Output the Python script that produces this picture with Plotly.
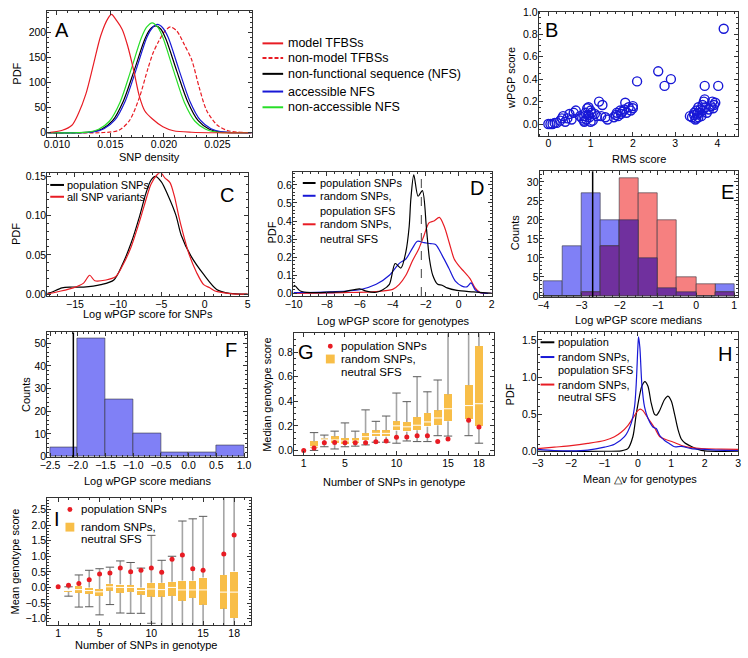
import plotly.graph_objects as go
import numpy as np

W, H = 748, 658
FONT = "Liberation Sans, Arial, Helvetica, sans-serif"
RED = "rgb(232,28,36)"
BLUE = "rgb(24,24,214)"
GREEN = "rgb(40,222,40)"
BLACK = "black"
ORANGE = "rgb(248,190,72)"
FR = "#333333"

# ---------------- Panel A : SNP density PDFs ----------------
a_model_x = [0.0091, 0.0093, 0.0105, 0.0114, 0.0120, 0.0127, 0.0134, 0.0141, 0.0148, 0.0151, 0.0156, 0.0161,
             0.0166, 0.0172, 0.0177, 0.0182, 0.0189, 0.0199, 0.0209, 0.0226, 0.0250, 0.0282]
a_model_y = [0, 0.5, 5, 15, 38, 77, 135, 194, 229, 236, 223, 206, 174, 122, 73, 44, 28, 12, 4, 1, 0, 0]
a_nonmodel_x = [0.0091, 0.0144, 0.0158, 0.0168, 0.0177, 0.0185, 0.0190, 0.0195, 0.0201, 0.0206, 0.0212,
                0.0219, 0.0226, 0.0233, 0.0240, 0.0250, 0.0260, 0.0282]
a_nonmodel_y = [0, 0.5, 5, 25, 70, 128, 160, 182, 203, 211, 203, 176, 145, 90, 44, 15, 4, 0]
a_nfs_x = [0.0091, 0.0132, 0.0142, 0.0152, 0.0162, 0.0172, 0.0182, 0.0187, 0.0192, 0.0197, 0.0202, 0.0212,
           0.0222, 0.0232, 0.0242, 0.0252, 0.0282]
a_nfs_y = [0, 1.6, 7.5, 24, 63, 123, 186, 206, 213, 207, 186, 123, 63, 24, 7.5, 1.6, 0]
a_acc_x = [0.0091, 0.0134, 0.0144, 0.0154, 0.0164, 0.0174, 0.0184, 0.0189, 0.0194, 0.0199, 0.0204, 0.0214,
           0.0224, 0.0234, 0.0244, 0.0254, 0.0282]
a_acc_y = [0, 1.7, 8, 25, 64, 126, 190, 209, 216, 209, 190, 126, 64, 25, 8, 1.7, 0]
a_nonacc_x = [0.0091, 0.0129, 0.0139, 0.0149, 0.0159, 0.0169, 0.0179, 0.0184, 0.0189, 0.0194, 0.0199, 0.0209,
              0.0219, 0.0229, 0.0239, 0.0249, 0.0282]
a_nonacc_y = [0, 1.3, 7, 23, 61, 124, 190, 211, 219, 211, 190, 124, 61, 23, 7, 1.3, 0.5]

# ---------------- Panel B : wPGP vs RMS ----------------
b_rms = [0.0, 0.05, 0.1, 0.15, 0.2, 0.28, 0.32, 0.35, 0.4, 0.45, 0.5, 0.55, 0.6, 0.65, 0.75, 0.8, 0.85, 0.85,
         0.88, 0.9, 0.92, 0.95, 0.97, 1.0, 1.02, 1.05, 1.1, 1.15, 1.2, 1.25, 1.28, 1.35, 1.4, 0.85, 0.95, 1.0,
         1.55, 1.6, 1.62, 1.65, 1.7, 1.72, 1.75, 1.8, 1.82, 1.85, 1.9, 1.95, 2.0, 2.0, 2.1,
         2.6, 2.75, 2.9,
         3.35, 3.4, 3.45, 3.45, 3.5, 3.5, 3.52, 3.55, 3.58, 3.6, 3.62, 3.65, 3.65, 3.68, 3.7, 3.72, 3.75, 3.8,
         3.85, 3.88, 3.9, 3.92, 3.95, 3.7, 4.02, 4.15, 3.48, 3.55]
b_wpgp = [0.0, 0.0, 0.0, 0.01, 0.01, 0.03, 0.05, 0.07, 0.02, 0.05, 0.09, 0.04, 0.1, 0.12, 0.07, 0.05, 0.03, 0.07,
          0.1, 0.04, 0.14, 0.15, 0.06, 0.02, 0.1, 0.03, 0.09, 0.07, 0.2, 0.07, 0.17, 0.06, 0.04, 0.02, 0.08, 0.12,
          0.06, 0.08, 0.1, 0.07, 0.12, 0.09, 0.11, 0.13, 0.19, 0.1, 0.15, 0.12, 0.14, 0.16, 0.38,
          0.47, 0.34, 0.4,
          0.07, 0.06, 0.08, 0.1, 0.05, 0.12, 0.09, 0.15, 0.1, 0.13, 0.07, 0.17, 0.12, 0.2, 0.22, 0.15, 0.1, 0.13,
          0.16, 0.2, 0.14, 0.17, 0.19, 0.34, 0.34, 0.85, 0.04, 0.06]

# ---------------- Panel C ----------------
c_pop_x = [-18.2, -17.8, -16.5, -15.5, -14, -12, -10.5, -9.5, -8.5, -7.5, -6.8, -6.2, -5.7, -5, -4.2, -3.3,
           -2.7, -1.6, -0.1, 1.4, 2.9, 5]
c_pop_y = [0.001, 0.002, 0.008, 0.009, 0.009, 0.012, 0.018, 0.038, 0.065, 0.1, 0.128, 0.145, 0.15, 0.143,
           0.125, 0.1, 0.075, 0.049, 0.025, 0.006, 0.001, 0]
c_all_x = [-18.2, -17, -15.2, -14, -13.3, -12.7, -11.4, -10.3, -9.5, -8.5, -7.6, -7.0, -6.2, -5.5, -5.1, -4.6,
           -4.0, -3.5, -3.0, -2.6, -1.8, -0.9, -0.1, 0.6, 1.2, 2.1, 3.6, 5]
c_all_y = [0, 0.003, 0.008, 0.014, 0.024, 0.017, 0.018, 0.022, 0.036, 0.06, 0.09, 0.112, 0.14, 0.152, 0.155,
           0.148, 0.142, 0.125, 0.1, 0.082, 0.051, 0.027, 0.012, 0.008, 0.004, 0.002, 0, 0]

# ---------------- Panel D ----------------
d_pop_x = [-10, -9.9, -9.6, -9, -7.8, -7, -6, -5.6, -5, -4.6, -4.2, -3.85, -3.5, -3.2, -3.0, -2.9, -2.72,
           -2.46, -2.2, -1.95, -1.77, -1.57, -1.27, -1.0, -0.7, -0.1, 0.9, 2.0]
d_pop_y = [0.045, 0.04, 0.013, 0.004, 0.007, 0.009, 0.025, 0.012, 0.006, 0.02, 0.05, 0.165, 0.14, 0.23,
           0.37, 0.52, 0.655, 0.537, 0.568, 0.356, 0.19, 0.1, 0.05, 0.045, 0.03, 0.016, 0.008, 0]
d_rpop_x = [-10, -7.8, -6, -5, -4.2, -3.6, -3.2, -2.8, -2.5, -2.1, -1.7, -1.4, -1.0, -0.6, -0.2, 0.2, 0.5,
            0.75, 1.0, 1.3, 2.0]
d_rpop_y = [0.004, 0.009, 0.02, 0.05, 0.1, 0.166, 0.19, 0.25, 0.288, 0.28, 0.275, 0.27, 0.21, 0.14, 0.067,
            0.04, 0.036, 0.058, 0.02, 0.004, 0]
d_rneu_x = [-10, -7, -5, -4, -3.6, -3.2, -2.8, -2.4, -2.1, -1.8, -1.5, -1.17, -0.87, -0.57, -0.27, 0.03,
            0.33, 0.7, 1.0, 1.3, 2.0]
d_rneu_y = [0, 0.004, 0.01, 0.022, 0.05, 0.1, 0.18, 0.25, 0.32, 0.39, 0.4, 0.42, 0.37, 0.28, 0.19, 0.15,
            0.12, 0.08, 0.03, 0.004, 0]
d_other_x = [-10, -9, -8, -7.5]
d_other_y = [0.002, 0.002, 0.002, 0.002]
d_median = -2.26

# ---------------- Panel E ----------------
e_bins = [-3.75, -3.25, -2.75, -2.25, -1.75, -1.25, -0.75, -0.25, 0.25, 0.75]
e_blue = [4, 13, 27, 20, 20, 10, 2, 1, 0, 3]
e_red = [0, 0, 1, 13, 31, 27, 20, 5, 3, 1]
e_line = -2.71

# ---------------- Panel F ----------------
f_bins = [-2.25, -1.75, -1.25, -0.75, -0.25, 0.25, 0.75]
f_counts = [4, 52, 25, 10, 2, 2, 5]
f_line = -2.08

# ---------------- Panel G ----------------
g_pop_n = [1, 2, 3, 4, 5, 6, 7, 8, 9, 10, 11, 12, 13, 14, 15, 17, 18]
g_pop_y = [0.0, 0.02, 0.062, 0.065, 0.062, 0.062, 0.062, 0.07, 0.077, 0.107, 0.11, 0.12, 0.12, 0.072,
           0.093, 0.245, 0.19]
g_n = [2, 3, 4, 5, 6, 7, 8, 9, 10, 11, 12, 13, 14, 15, 17, 18]
g_lo = [0.0, 0.03, 0.012, 0.03, 0.035, 0.045, 0.067, 0.067, 0.059, 0.077, 0.072, 0.072, 0.12, 0.117, 0.12, 0.059]
g_q1 = [0.013, 0.088, 0.059, 0.053, 0.059, 0.08, 0.112, 0.112, 0.16, 0.152, 0.165, 0.192, 0.205, 0.237, 0.25, 0.197]
g_med = [0.03, 0.092, 0.085, 0.077, 0.077, 0.112, 0.139, 0.139, 0.2, 0.192, 0.205, 0.232, 0.264, 0.339, 0.365, 0.38]
g_q3 = [0.072, 0.096, 0.112, 0.099, 0.099, 0.139, 0.16, 0.165, 0.237, 0.232, 0.272, 0.304, 0.325, 0.455, 0.53, 0.85]
g_hi = [0.145, 0.125, 0.157, 0.224, 0.157, 0.33, 0.237, 0.28, 0.467, 0.397, 0.6, 0.477, 0.573, 1.2, 1.2, 1.2]

# ---------------- Panel H ----------------
h_pop_x = [-3, -2, -1, -0.5, -0.3, -0.15, -0.05, 0.05, 0.12, 0.21, 0.3, 0.4, 0.5, 0.56, 0.65, 0.8, 0.9, 1.0,
           1.1, 1.2, 1.3, 1.4, 1.6, 1.8, 2.0, 3.0]
h_pop_y = [0.005, 0.003, 0.005, 0.01, 0.04, 0.2, 0.5, 0.75, 0.88, 0.94, 0.88, 0.65, 0.5, 0.49, 0.55, 0.7,
           0.745, 0.68, 0.5, 0.3, 0.17, 0.12, 0.07, 0.03, 0.01, 0.005]
h_rpop_x = [-3, -2.5, -2, -1.5, -1, -0.7, -0.4, -0.2, -0.1, -0.05, 0.0, 0.02, 0.06, 0.12, 0.2, 0.3, 0.45,
            0.55, 0.65, 0.8, 0.97, 1.1, 1.3, 1.6, 2.0, 2.4, 3.0]
h_rpop_y = [0.03, 0.015, 0.01, 0.02, 0.06, 0.1, 0.2, 0.38, 0.6, 0.9, 1.4, 1.54, 1.4, 0.9, 0.6, 0.45, 0.33,
            0.31, 0.22, 0.15, 0.1, 0.065, 0.07, 0.04, 0.03, 0.02, 0.015]
h_rneu_x = [-3, -2.5, -2, -1.5, -1, -0.7, -0.5, -0.3, -0.15, 0.0, 0.07, 0.15, 0.3, 0.5, 0.66, 0.85, 1.05,
            1.4, 1.9, 2.5, 3.0]
h_rneu_y = [0.04, 0.06, 0.08, 0.11, 0.15, 0.2, 0.26, 0.35, 0.45, 0.55, 0.57, 0.55, 0.45, 0.32, 0.2, 0.16,
            0.13, 0.07, 0.04, 0.035, 0.03]

# ---------------- Panel I ----------------
i_pop_n = [1, 2, 3, 4, 5, 6, 7, 8, 9, 10, 11, 12, 13, 14, 15, 17, 18]
i_pop_y = [0.02, 0.07, 0.13, 0.25, 0.43, 0.46, 0.62, 0.5, 0.55, 0.62, 0.49, 0.9, 1.04, 0.6, 0.55, 1.07, 1.68]
i_n = [2, 3, 4, 5, 6, 7, 8, 9, 10, 11, 12, 13, 14, 15, 17, 18]
i_lo = [-0.28, -0.63, -0.62, -0.88, -0.55, -0.82, -0.83, -0.83, -1.15, -1.6, -1.6, -1.6, -1.6, -1.6, -1.6, -1.6]
i_q1 = [-0.14, -0.17, -0.2, -0.27, -0.1, -0.17, -0.14, -0.23, -0.28, -0.28, -0.27, -0.42, -0.33, -0.55, -0.67, -0.98]
i_med = [-0.1, -0.07, -0.1, -0.14, 0.02, 0.0, 0.0, -0.1, -0.05, -0.07, 0.0, -0.08, -0.08, -0.08, -0.15, -0.15]
i_q3 = [-0.06, 0.05, 0.0, -0.05, 0.12, 0.1, 0.08, 0.0, 0.15, 0.15, 0.18, 0.22, 0.22, 0.32, 0.4, 0.52]
i_hi = [0.02, 0.4, 0.55, 0.6, 0.65, 0.85, 0.8, 0.62, 1.67, 0.87, 1.0, 2.13, 2.2, 2.28, 3.2, 3.2]

# =============================================================
fig = go.Figure()


def ax_id(i):
    return '' if i == 1 else str(i)


def tfmt(v, nd):
    s = f"{v:.{nd}f}"
    return s.replace('-', '\u2212')


axes_spec = {
    1: dict(xp=(40, 248), yp=(5, 133), xr=[0.0091, 0.0282], yr=[-8, 243],
            xt=[0.010, 0.015, 0.020, 0.025], xnd=3, yt=[0, 50, 100, 150, 200], ynd=0,
            xm=np.arange(0.009, 0.0285, 0.001), ym=np.arange(0, 245, 10)),
    2: dict(xp=(540, 743), yp=(6, 132), xr=[-0.23, 4.49], yr=[-0.105, 1.0],
            xt=[0, 1, 2, 3, 4], xnd=0, yt=[0, 0.2, 0.4, 0.6, 0.8, 1.0], ynd=1,
            xm=np.arange(-0.2, 4.5, 0.2), ym=np.arange(-0.1, 1.0, 0.05)),
    3: dict(xp=(40, 244), yp=(170, 295), xr=[-18.2, 5], yr=[-0.0025, 0.154],
            xt=[-15, -10, -5, 0, 5], xnd=0, yt=[0, 0.05, 0.10, 0.15], ynd=2,
            xm=np.arange(-18, 5, 1), ym=np.arange(0, 0.155, 0.01)),
    4: dict(xp=(290, 493), yp=(169, 295), xr=[-10.05, 2.05], yr=[-0.015, 0.67],
            xt=[-10, -8, -6, -4, -2, 0, 2], xnd=0, yt=[0, 0.1, 0.2, 0.3, 0.4, 0.5, 0.6], ynd=1,
            xm=np.arange(-10, 2.01, 0.5), ym=np.arange(0, 0.67, 0.02)),
    5: dict(xp=(541, 743), yp=(168, 296), xr=[-4.1, 1.1], yr=[-0.3, 32.8],
            xt=[-4, -3, -2, -1, 0, 1], xnd=0, yt=[0, 5, 10, 15, 20, 25, 30], ynd=0,
            xm=np.arange(-4, 1.01, 0.2), ym=np.arange(0, 33, 1)),
    6: dict(xp=(40, 243), yp=(332, 459), xr=[-2.55, 1.05], yr=[-0.3, 54.7],
            xt=[-2.5, -2.0, -1.5, -1.0, -0.5, 0.0, 0.5, 1.0], xnd=1, yt=[0, 10, 20, 30, 40, 50], ynd=0,
            xm=np.arange(-2.5, 1.01, 0.1), ym=np.arange(0, 55, 2)),
    7: dict(xp=(291, 495), yp=(333, 457), xr=[0.05, 19.5], yr=[-0.04, 0.952],
            xt=[1, 5, 10, 15, 18], xnd=0, yt=[0, 0.2, 0.4, 0.6, 0.8], ynd=1,
            xm=np.arange(1, 20, 1), ym=np.arange(0, 0.95, 0.05)),
    8: dict(xp=(539, 743), yp=(332, 457), xr=[-3, 3], yr=[-0.05, 1.6],
            xt=[-3, -2, -1, 0, 1, 2, 3], xnd=0, yt=[0, 0.5, 1.0, 1.5], ynd=1,
            xm=np.arange(-3, 3.01, 0.2), ym=np.arange(0, 1.6, 0.1)),
    9: dict(xp=(40, 247), yp=(500, 630), xr=[-0.05, 19.6], yr=[-1.22, 2.88],
            xt=[1, 5, 10, 15, 18], xnd=0, yt=[-1.0, -0.5, 0, 0.5, 1.0, 1.5, 2.0, 2.5], ynd=1,
            xm=np.arange(1, 20, 1), ym=np.arange(-1.2, 2.9, 0.1)),
}

layout = dict(width=W, height=H, margin=dict(l=0, r=0, t=0, b=0), paper_bgcolor='white',
              plot_bgcolor='white', showlegend=False,
              font=dict(family=FONT, size=11, color='black'))

for i, s in axes_spec.items():
    sid = ax_id(i)
    common = dict(showline=True, linecolor=FR, linewidth=1, mirror='ticks', ticks='inside', ticklen=4,
                  tickwidth=1, tickcolor=FR, showgrid=False, zeroline=False, ticklabelstandoff=-2,
                  tickfont=dict(size=10.5, family=FONT, color='black'), tickmode='array')
    xa = dict(common, domain=[s['xp'][0] / W, s['xp'][1] / W], range=s['xr'], anchor='y' + sid,
              tickvals=s['xt'], ticktext=[tfmt(v, s['xnd']) for v in s['xt']],
              minor=dict(tickmode='array', tickvals=list(s['xm']), ticks='inside', ticklen=2, tickcolor=FR))
    ya = dict(common, domain=[1 - s['yp'][1] / H, 1 - s['yp'][0] / H], range=s['yr'], anchor='x' + sid,
              tickvals=s['yt'], ticktext=[tfmt(v, s['ynd']) for v in s['yt']],
              minor=dict(tickmode='array', tickvals=list(s['ym']), ticks='inside', ticklen=2, tickcolor=FR))
    layout['xaxis' + sid] = xa
    layout['yaxis' + sid] = ya


def line(i, x, y, color, dash='solid', width=1.2):
    sid = ax_id(i)
    fig.add_trace(go.Scatter(x=x, y=y, mode='lines', line=dict(color=color, width=width, dash=dash,
                                                                shape='spline', smoothing=0.8),
                             xaxis='x' + sid, yaxis='y' + sid, hoverinfo='skip'))


# A
line(1, a_nonmodel_x, a_nonmodel_y, RED, dash='4px,2px')
line(1, a_nfs_x, a_nfs_y, BLACK)
line(1, a_acc_x, a_acc_y, BLUE)
line(1, a_nonacc_x, a_nonacc_y, GREEN)
line(1, a_model_x, a_model_y, RED)

# B
fig.add_trace(go.Scatter(x=b_rms, y=b_wpgp, mode='markers', xaxis='x2', yaxis='y2',
                         marker=dict(symbol='circle-open', size=9, color=BLUE, line=dict(width=1.4, color=BLUE))))

# C
line(3, c_pop_x, c_pop_y, BLACK)
line(3, c_all_x, c_all_y, RED)

# D
line(4, d_other_x, d_other_y, "rgb(190,160,240)", width=2)
line(4, d_rneu_x, d_rneu_y, RED)
line(4, d_rpop_x, d_rpop_y, BLUE)
line(4, d_pop_x, d_pop_y, BLACK)

# E histograms
e_over = list(np.minimum(e_blue, e_red))
edge = dict(color='rgba(50,50,60,0.75)', width=0.8)
fig.add_trace(go.Bar(x=e_bins, y=e_blue, width=0.5, marker=dict(color='rgb(128,128,246)', line=edge),
                     xaxis='x5', yaxis='y5'))
fig.add_trace(go.Bar(x=e_bins, y=e_red, width=0.5, marker=dict(color='rgb(246,128,128)', line=edge),
                     xaxis='x5', yaxis='y5'))
fig.add_trace(go.Bar(x=e_bins, y=e_over, width=0.5, marker=dict(color='rgb(112,48,158)', line=edge),
                     xaxis='x5', yaxis='y5'))

# F histogram
fig.add_trace(go.Bar(x=f_bins, y=f_counts, width=0.5, marker=dict(color='rgb(128,128,246)', line=edge),
                     xaxis='x6', yaxis='y6'))


def boxes(i, n, lo, q1, med, q3, hi, popn, popy):
    sid = ax_id(i)
    wx, wy = [], []
    for k in range(len(n)):
        wx += [n[k], n[k], None, n[k], n[k], None]
        wy += [lo[k], q1[k], None, q3[k], hi[k], None]
    fig.add_trace(go.Scatter(x=wx, y=wy, mode='lines', line=dict(color='rgb(165,165,165)', width=1.6),
                             xaxis='x' + sid, yaxis='y' + sid, hoverinfo='skip'))
    fig.add_trace(go.Scatter(x=list(n) + list(n), y=list(lo) + list(hi), mode='markers',
                             marker=dict(symbol='line-ew', size=6, line=dict(color='rgb(90,90,90)', width=1)),
                             xaxis='x' + sid, yaxis='y' + sid, hoverinfo='skip'))
    fig.add_trace(go.Bar(x=n, y=list(np.array(q3) - np.array(q1)), base=q1, width=0.74,
                         marker=dict(color=ORANGE, line=dict(width=0)), xaxis='x' + sid, yaxis='y' + sid))
    fig.add_trace(go.Scatter(x=n, y=med, mode='markers',
                             marker=dict(symbol='line-ew', size=7, line=dict(color='white', width=1)),
                             xaxis='x' + sid, yaxis='y' + sid, hoverinfo='skip'))
    fig.add_trace(go.Scatter(x=popn, y=popy, mode='markers', marker=dict(size=5, color=RED),
                             xaxis='x' + sid, yaxis='y' + sid, hoverinfo='skip'))


boxes(7, g_n, g_lo, g_q1, g_med, g_q3, g_hi, g_pop_n, g_pop_y)
boxes(9, i_n, i_lo, i_q1, i_med, i_q3, i_hi, i_pop_n, i_pop_y)

# H
line(8, h_pop_x, h_pop_y, BLACK)
line(8, h_rneu_x, h_rneu_y, RED)
line(8, h_rpop_x, h_rpop_y, BLUE)

layout['barmode'] = 'overlay'
layout['bargap'] = 0

# ---------- shapes (reference lines + legend glyphs) ----------
shapes = [
    dict(type='line', xref='x4', yref='y4 domain', x0=d_median, x1=d_median, y0=0, y1=1,
         line=dict(color='rgb(100,100,100)', width=1.2, dash='dash')),
    dict(type='line', xref='x5', yref='y5 domain', x0=e_line, x1=e_line, y0=0, y1=1,
         line=dict(color='black', width=1.5)),
    dict(type='line', xref='x6', yref='y6 domain', x0=f_line, x1=f_line, y0=0, y1=1,
         line=dict(color='black', width=1.5)),
]
annotations = []


def px_line(x0, x1, y, color, dash='solid', width=2):
    shapes.append(dict(type='line', xref='paper', yref='paper', x0=x0 / W, x1=x1 / W, y0=1 - y / H,
                       y1=1 - y / H, line=dict(color=color, width=width, dash=dash)))


def txt(text, x, y, size=11, rot=0, xanchor='center'):
    annotations.append(dict(text=text, x=x / W, y=1 - y / H, xref='paper', yref='paper', showarrow=False,
                            font=dict(size=size, family=FONT, color='black'), textangle=rot,
                            xanchor=xanchor, yanchor='middle'))


# Legend A
leg_a = [("model TFBSs", RED, 'solid'), ("non-model TFBSs", RED, '4px,2px'),
         ("non-functional sequence (NFS)", BLACK, 'solid'), ("accessible NFS", BLUE, 'solid'),
         ("non-accessible NFS", GREEN, 'solid')]
for (t, c, d), yy in zip(leg_a, [38, 53, 69, 87, 103]):
    px_line(259, 280, yy, c, dash=d)
    txt(t, 283, yy, size=12.5, xanchor='left')

# Legend C
px_line(43, 57, 182, BLACK)
txt("population SNPs", 58, 182, size=11, xanchor='left')
px_line(43, 57, 194, RED)
txt("all SNP variants", 58, 194, size=11, xanchor='left')

# Legend D
px_line(300, 313, 180, BLACK)
txt("population SNPs", 315, 180, xanchor='left')
px_line(300, 313, 193, BLUE)
txt("random SNPs,", 315, 193, xanchor='left')
txt("population SFS", 315, 208, xanchor='left')
px_line(300, 313, 222, RED)
txt("random SNPs,", 315, 222, xanchor='left')
txt("neutral SFS", 315, 237, xanchor='left')

# Legend H
px_line(542, 556, 342, BLACK)
txt("population", 558, 342, xanchor='left')
px_line(542, 556, 357, BLUE)
txt("random SNPs,", 558, 357, xanchor='left')
txt("population SFS", 558, 370, xanchor='left')
px_line(542, 556, 385, RED)
txt("random SNPs,", 558, 385, xanchor='left')
txt("neutral SFS", 558, 398, xanchor='left')


def dot_sq_legend(xd, yd, ys, y2):
    shapes.append(dict(type='circle', xref='paper', yref='paper', x0=(xd - 2.5) / W, x1=(xd + 2.5) / W,
                       y0=1 - (yd + 2.5) / H, y1=1 - (yd - 2.5) / H, fillcolor=RED, line=dict(width=0)))
    shapes.append(dict(type='rect', xref='paper', yref='paper', x0=(xd - 4.5) / W, x1=(xd + 4.5) / W,
                       y0=1 - (ys + 4.5) / H, y1=1 - (ys - 4.5) / H, fillcolor=ORANGE, line=dict(width=0)))
    txt("population SNPs", xd + 9, yd, xanchor='left', size=11.5)
    txt("random SNPs,", xd + 9, ys, xanchor='left', size=11.5)
    txt("neutral SFS", xd + 9, y2, xanchor='left', size=11.5)


dot_sq_legend(328, 346, 359, 372)
dot_sq_legend(63, 512, 530, 542)

# Panel letters
for t, x, y in [("A", 55, 24), ("B", 553, 24), ("C", 223, 192), ("D", 477, 185), ("E", 732, 189),
                ("F", 227, 350), ("G", 303, 352), ("H", 730, 354), ("I", 50, 522)]:
    txt(t, x, y, size=20)

# Axis titles
for t, x, y in [("SNP density", 144, 154), ("RMS score", 642, 156), ("Log wPGP score for SNPs", 142, 313),
                ("Log wPGP score for genotypes", 392, 320), ("Log wPGP score medians", 642, 319),
                ("Log wPGP score medians", 142, 483), ("Number of SNPs in genotype", 393, 484),
                ("Mean \u25b3v for genotypes", 643, 481), ("Number of SNPs in genotype", 140, 650)]:
    txt(t, x, y, size=11)
for t, x, y in [("PDF", 9, 69), ("wPGP score", 512, 73), ("PDF", 8, 232), ("PDF", 269, 230),
                ("Counts", 516, 231), ("Counts", 19, 395), ("Median genotype score", 264, 395),
                ("PDF", 511, 395), ("Mean genotype score", 7, 565)]:
    txt(t, x, y, size=11, rot=-90)

layout['shapes'] = shapes
layout['annotations'] = annotations
fig.update_layout(**layout)
fig.write_html("out.html", config={'displayModeBar': False},
               post_script="document.body.style.margin='0';document.body.style.overflow='hidden';")
